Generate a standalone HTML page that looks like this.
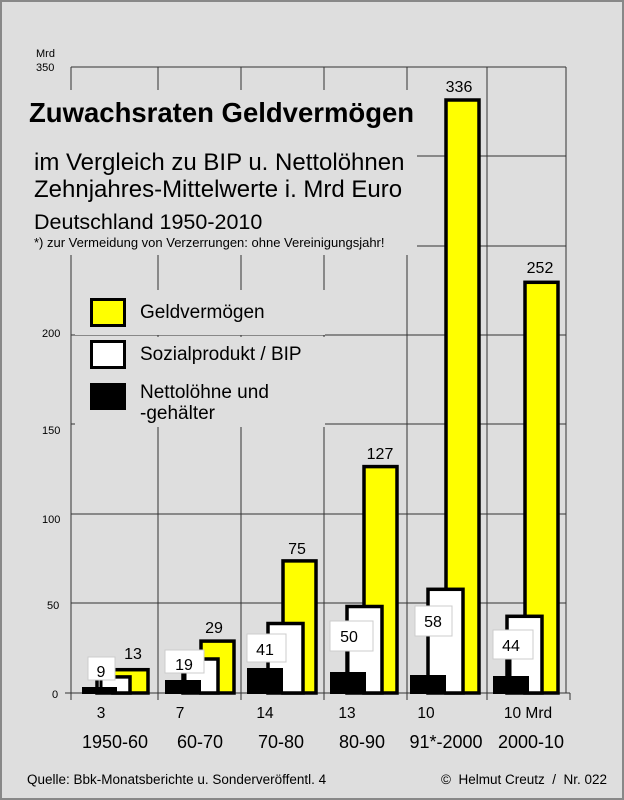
<!DOCTYPE html>
<html><head><meta charset="utf-8"><style>
html,body{margin:0;padding:0;background:#dcdcdc}
svg{display:block;font-family:"Liberation Sans",Arial,sans-serif}
</style></head><body>
<svg width="624" height="800" viewBox="0 0 624 800" xmlns="http://www.w3.org/2000/svg">
<rect x="0" y="0" width="624" height="800" fill="#dedede"/>
<rect x="1" y="1" width="622" height="798" fill="none" stroke="#888" stroke-width="2"/>
<g stroke="#333" stroke-width="1">
<line x1="71" y1="67" x2="566" y2="67"/>
<line x1="71" y1="156" x2="566" y2="156"/>
<line x1="71" y1="246" x2="566" y2="246"/>
<line x1="71" y1="335" x2="566" y2="335"/>
<line x1="71" y1="424" x2="566" y2="424"/>
<line x1="71" y1="514" x2="566" y2="514"/>
<line x1="71" y1="603" x2="566" y2="603"/>
<line x1="65" y1="693" x2="570" y2="693"/>
<line x1="71" y1="67" x2="71" y2="700"/>
<line x1="158" y1="67" x2="158" y2="700"/>
<line x1="241" y1="67" x2="241" y2="700"/>
<line x1="324" y1="67" x2="324" y2="700"/>
<line x1="407" y1="67" x2="407" y2="700"/>
<line x1="487" y1="67" x2="487" y2="700"/>
<line x1="566" y1="67" x2="566" y2="693"/>
<line x1="570" y1="693" x2="570" y2="700"/>
</g>
<rect x="25" y="90" width="392" height="165" fill="#dedede"/>
<rect x="75" y="290" width="250" height="45" fill="#dedede"/>
<rect x="75" y="337" width="250" height="90" fill="#dedede"/>
<g font-size="11" fill="#000">
<text x="36" y="57">Mrd</text>
<text x="36" y="71">350</text>
<text x="42" y="337">200</text>
<text x="42" y="434">150</text>
<text x="42" y="523">100</text>
<text x="47" y="609">50</text>
<text x="52" y="698">0</text>
</g>
<text x="29" y="122" font-size="27.5" font-weight="bold">Zuwachsraten Geldvermögen</text>
<text x="34" y="170" font-size="24">im Vergleich zu BIP u. Nettolöhnen</text>
<text x="34" y="197" font-size="24">Zehnjahres-Mittelwerte i. Mrd Euro</text>
<text x="34" y="229" font-size="21.5">Deutschland 1950-2010</text>
<text x="34" y="247" font-size="13">*) zur Vermeidung von Verzerrungen: ohne Vereinigungsjahr!</text>
<rect x="91.5" y="299.5" width="33" height="26" fill="#ff0" stroke="#000" stroke-width="3"/>
<rect x="91.5" y="341.5" width="33" height="26" fill="#fff" stroke="#000" stroke-width="3"/>
<rect x="90" y="383" width="36" height="27" fill="#000"/>
<g font-size="19">
<text x="140" y="318">Geldvermögen</text>
<text x="140" y="360">Sozialprodukt / BIP</text>
<text x="140" y="398">Nettolöhne und</text>
<text x="140" y="419">-gehälter</text>
</g>
<g stroke="#000" stroke-width="3.5">
<rect x="113" y="669.7" width="35" height="23.3" fill="#ff0"/>
<rect x="97" y="676.9" width="33" height="16.1" fill="#fff"/>
<rect x="201" y="641.1" width="33" height="51.9" fill="#ff0"/>
<rect x="183" y="659" width="35" height="34" fill="#fff"/>
<rect x="283" y="560.9" width="33" height="132.1" fill="#ff0"/>
<rect x="268" y="623.5" width="35" height="69.5" fill="#fff"/>
<rect x="364" y="466.6" width="33" height="226.4" fill="#ff0"/>
<rect x="347" y="606.5" width="35" height="86.5" fill="#fff"/>
<rect x="446" y="100" width="33" height="593" fill="#ff0"/>
<rect x="428" y="589.3" width="35" height="103.7" fill="#fff"/>
<rect x="525" y="282.3" width="33" height="410.7" fill="#ff0"/>
<rect x="507" y="616.3" width="35" height="76.7" fill="#fff"/>
</g>
<g fill="#000">
<rect x="82" y="687" width="35" height="7"/>
<rect x="165" y="680" width="36" height="14"/>
<rect x="247" y="668" width="36" height="26"/>
<rect x="330" y="672" width="36" height="22"/>
<rect x="410" y="675" width="36" height="19"/>
<rect x="493" y="676" width="36" height="18"/>
</g>
<g stroke="#000" stroke-width="3">
<line x1="101" y1="680" x2="101" y2="687"/>
<line x1="185" y1="673" x2="185" y2="680"/>
<line x1="268" y1="662" x2="268" y2="668"/>
<line x1="348" y1="651" x2="348" y2="672"/>
<line x1="428" y1="636" x2="428" y2="675"/>
<line x1="510" y1="659" x2="510" y2="676"/>
</g>
<g fill="#fff" stroke="#ccc" stroke-width="1">
<rect x="88" y="657" width="27" height="23"/>
<rect x="165" y="650" width="39" height="23"/>
<rect x="247" y="634" width="39" height="28"/>
<rect x="330" y="621" width="43" height="30"/>
<rect x="415" y="606" width="37" height="30"/>
<rect x="493" y="630" width="40" height="29"/>
</g>
<g font-size="16" text-anchor="middle">
<text x="101" y="677">9</text>
<text x="184" y="670">19</text>
<text x="265" y="655">41</text>
<text x="349" y="642">50</text>
<text x="433" y="627">58</text>
<text x="511" y="651">44</text>
<text x="133" y="659">13</text>
<text x="214" y="633">29</text>
<text x="297" y="554">75</text>
<text x="380" y="459">127</text>
<text x="459" y="92">336</text>
<text x="540" y="273">252</text>
</g>
<g font-size="15.5" text-anchor="middle">
<text x="101" y="718">3</text>
<text x="180" y="718">7</text>
<text x="265" y="718">14</text>
<text x="347" y="718">13</text>
<text x="426" y="718">10</text>
<text x="528" y="718">10 Mrd</text>
</g>
<g font-size="18" text-anchor="middle">
<text x="115" y="748">1950-60</text>
<text x="200" y="748">60-70</text>
<text x="281" y="748">70-80</text>
<text x="362" y="748">80-90</text>
<text x="446" y="748">91*-2000</text>
<text x="531" y="748">2000-10</text>
</g>
<text x="27" y="784" font-size="13.5">Quelle: Bbk-Monatsberichte u. Sonderveröffentl. 4</text>
<text x="441" y="784" font-size="13.5" xml:space="preserve">©  Helmut Creutz  /  Nr. 022</text>
</svg>
</body></html>
